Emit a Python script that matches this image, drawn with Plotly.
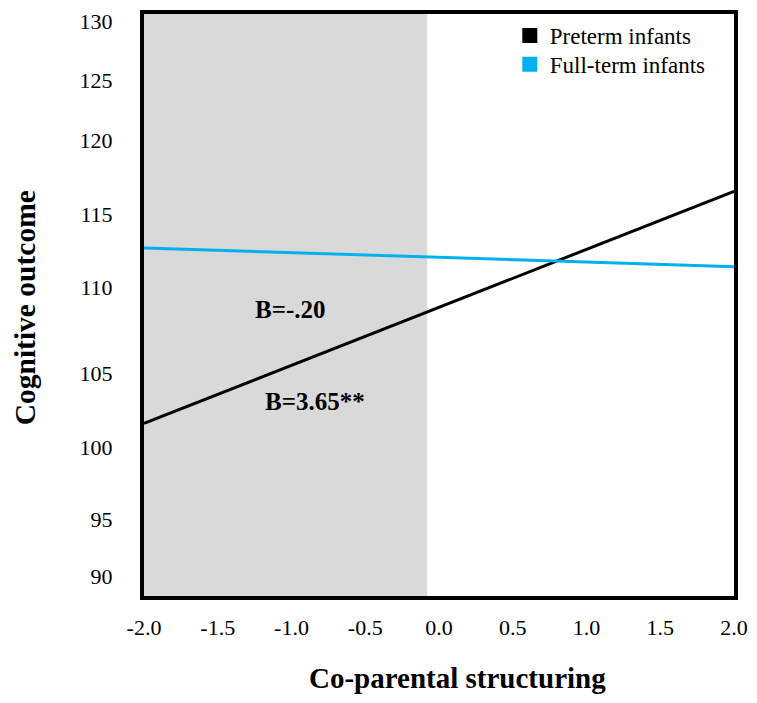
import plotly.graph_objects as go

# ---- data ----
x_range_vals = [-2.0, 2.0]
preterm_y = [101.56, 116.16]
fullterm_y = [112.60, 111.42]
series_names = ["Preterm infants", "Full-term infants"]
shade_x = [-2.0, -0.08]

x_tick_vals = [-2.0, -1.5, -1.0, -0.5, 0.0, 0.5, 1.0, 1.5, 2.0]
x_tick_text = ["-2.0", "-1.5", "-1.0", "-0.5", "0.0", "0.5", "1.0", "1.5", "2.0"]
y_tick_text = ["130", "125", "120", "115", "110", "105", "100", "95", "90"]
# label positions as placed in the original figure
y_tick_pos = [126.85, 123.12, 119.35, 114.72, 110.12, 104.73, 100.05, 95.5, 91.95]

annot_text = ["B=-.20", "B=3.65**"]
annot_x = [-1.01, -0.84]
annot_y = [108.73, 102.93]

BLACK = "#000000"
BLUE = "#00b0f0"
GRAY = "#d9d9d9"
FONT = "Liberation Serif"

fig = go.Figure()

fig.add_trace(go.Scatter(x=x_range_vals, y=preterm_y, mode="lines",
                         line=dict(color=BLACK, width=3), showlegend=False))
fig.add_trace(go.Scatter(x=x_range_vals, y=fullterm_y, mode="lines",
                         line=dict(color=BLUE, width=3), showlegend=False))
# legend entries as squares (one legend per row for exact spacing)
for name, col, lg in zip(series_names, [BLACK, BLUE], ["legend", "legend2"]):
    fig.add_trace(go.Scatter(x=[None], y=[None], mode="markers", name=name, legend=lg,
                             marker=dict(symbol="square", size=15, color=col)))

fig.add_shape(type="rect", xref="x", yref="paper", x0=shade_x[0], x1=shade_x[1],
              y0=0, y1=1, fillcolor=GRAY, line=dict(width=0), layer="below")

for t, ax_, ay_ in zip(annot_text, annot_x, annot_y):
    fig.add_annotation(x=ax_, y=ay_, text=t, showarrow=False,
                       font=dict(family=FONT, size=25, color=BLACK, weight="bold"))

fig.add_annotation(xref="paper", yref="paper", x=-0.201, y=0.495, text="Cognitive outcome",
                   textangle=-90, showarrow=False, xanchor="center", yanchor="middle",
                   font=dict(family=FONT, size=29.5, color=BLACK, weight="bold"))
fig.add_annotation(xref="paper", yref="paper", x=0.531, y=-0.141, text="Co-parental structuring",
                   showarrow=False, xanchor="center", yanchor="middle",
                   font=dict(family=FONT, size=29, color=BLACK, weight="bold"))

legend_style = dict(xanchor="left", yanchor="top", bgcolor="rgba(0,0,0,0)",
                    font=dict(family=FONT, size=23))

fig.update_layout(
    width=757, height=703,
    margin=dict(l=144, r=16, t=9, b=107),
    paper_bgcolor="white", plot_bgcolor="white",
    font=dict(family=FONT, size=22, color=BLACK),
    legend=dict(x=0.62, y=1.0, **legend_style),
    legend2=dict(x=0.62, y=0.9506, **legend_style),
    xaxis=dict(range=[-2, 2], tickvals=x_tick_vals, ticktext=x_tick_text,
               showgrid=False, zeroline=False, showline=True, linecolor=BLACK,
               linewidth=4, mirror=True, ticks="", ticklabelstandoff=9,
               tickfont=dict(family=FONT, size=22)),
    yaxis=dict(range=[90.70, 127.32], tickvals=y_tick_pos, ticktext=y_tick_text,
               showgrid=False, zeroline=False, showline=True, linecolor=BLACK,
               linewidth=4, mirror=True, ticks="", ticklabelstandoff=23,
               tickfont=dict(family=FONT, size=22)),
)

fig.write_html("out.html", config={"displayModeBar": False},
               post_script="document.body.style.margin='0';document.body.style.overflow='hidden';")
